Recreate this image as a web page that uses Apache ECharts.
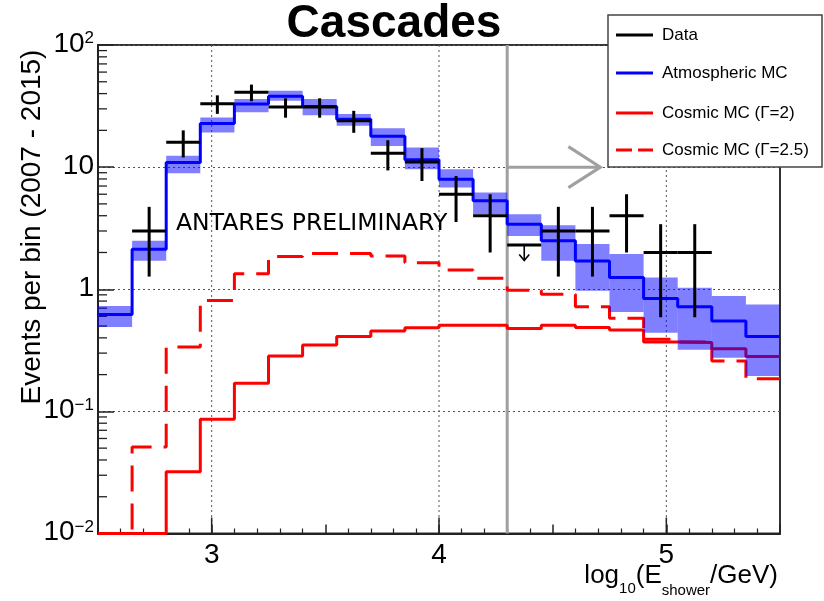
<!DOCTYPE html>
<html>
<head>
<meta charset="utf-8">
<script src="https://cdn.jsdelivr.net/npm/echarts@6/dist/echarts.min.js"></script>
<style>
  html, body { margin: 0; padding: 0; background: #ffffff; }
  #chart { width: 824px; height: 601px; }
</style>
</head>
<body>
<div id="chart"></div>
<script>
// Bin edges in log10(E_shower / GeV)
const binEdges = [2.5, 2.65, 2.8, 2.95, 3.1, 3.25, 3.4, 3.55, 3.7, 3.85, 4.0,
                  4.15, 4.3, 4.45, 4.6, 4.75, 4.9, 5.05, 5.2, 5.35, 5.5];

// Atmospheric MC expectation per bin and its uncertainty band
const atmosphericMC   = [0.62, 2.13, 10.9, 22.8, 32.8, 38.0, 31.4, 24.7, 17.9, 11.5,
                         7.97, 5.3, 3.41, 2.5, 1.70, 1.25, 0.84, 0.72, 0.55, 0.41];
const atmosphericLow  = [0.49, 1.71, 8.9, 19.2, 28.2, 34.9, 26.6, 21.8, 14.9, 9.6,
                         6.8, 4.12, 2.73, 1.71, 0.97, 0.65, 0.44, 0.32, 0.275, 0.195];
const atmosphericHigh = [0.73, 2.49, 12.4, 25.5, 36.1, 42.2, 36.1, 27.2, 20.8, 14.5,
                         9.6, 6.2, 4.12, 3.35, 2.35, 1.94, 1.25, 1.03, 0.88, 0.75];

// Cosmic neutrino expectations for two spectral indices
const cosmicGamma2  = [0.01, 0.01, 0.032, 0.086, 0.17, 0.284, 0.35, 0.41, 0.456, 0.483,
                       0.508, 0.508, 0.477, 0.507, 0.486, 0.464, 0.37, 0.366, 0.326, 0.281];
const cosmicGamma25 = [0.01, 0.051, 0.337, 0.81, 1.34, 1.85, 1.96, 1.96, 1.87, 1.65,
                       1.44, 1.23, 0.98, 0.91, 0.72, 0.58, 0.39, 0.37, 0.258, 0.185];

// Observed events with their error bar ends
const dataCounts = [null, 3, 16, 33, 41, 31, 31, 24, 13, 11, 6, 4, null, 3, 3, 4, 2, 2, null, null];
const dataLow    = [null, 1.27, 12, 27.3, 34.6, 25.4, 25.4, 19.1, 9.4, 7.7, 3.55, 2, null, 1.27, 1.27, 2, 0.59, 0.59, null, null];
const dataHigh   = [null, 4.73, 20, 38.7, 47.4, 36.6, 36.6, 28.9, 16.6, 14.3, 8.45, 6, null, 4.73, 4.73, 6, 3.41, 3.41, null, null];

// Empty bin shown as an upper limit
const limitBin = 12;
const limitValue = 2.3;
const limitArrowTip = 1.72;

// Energy cut and the arrow marking the selected region
const cutEnergy = 4.3;
const arrowEnd = 4.71;
const arrowLevel = 10;

// Axis labelling
const xTickValues = [3, 4, 5];
const xTickLabels = ['3', '4', '5'];
const yDecades = [-2, -1, 0, 1, 2];
const yTickBase = ['10', '10', '1', '10', '10'];
const yTickExp  = ['\u22122', '\u22121', '', '', '2'];
const yMinorSteps = [2, 3, 4, 5, 6, 7, 8, 9];

const legendEntries = ['Data', 'Atmospheric MC', 'Cosmic MC (\u0393=2)', 'Cosmic MC (\u0393=2.5)'];

const FONT = '"Liberation Sans", Arial, Helvetica, sans-serif';
const BLUE = '#0000ff';
const RED = '#ff0000';
const GREY = '#a0a0a0';

function histogramPath(values) {
  const pts = [];
  values.forEach((v, i) => {
    if (v == null) return;
    pts.push([binEdges[i], v], [binEdges[i + 1], v]);
  });
  return pts;
}

const bandData = atmosphericMC.map((_, i) => [binEdges[i], binEdges[i + 1], atmosphericLow[i], atmosphericHigh[i]]);
const crossData = [];
dataCounts.forEach((c, i) => {
  if (c == null) return;
  crossData.push([binEdges[i], binEdges[i + 1], c, dataLow[i], dataHigh[i]]);
});

const chart = echarts.init(document.getElementById('chart'), null, { renderer: 'canvas' });

const yRich = {
  b: { fontFamily: FONT, fontSize: 28, color: '#000', lineHeight: 30, verticalAlign: 'top' },
  s: { fontFamily: FONT, fontSize: 17, color: '#000', lineHeight: 17, verticalAlign: 'top' }
};

// Lay out the x-axis title piece by piece so the subscripts sit low
const measureCtx = document.createElement('canvas').getContext('2d');
function textWidth(str, size) {
  measureCtx.font = size + 'px ' + FONT;
  return measureCtx.measureText(str).width;
}
const xTitleParts = [
  { t: 'log', size: 26, base: 584 },
  { t: '10', size: 15, base: 594 },
  { t: '(E', size: 26, base: 584 },
  { t: 'shower', size: 15, base: 596 },
  { t: '/GeV)', size: 26, base: 584 }
];
const xTitleRight = 778;
const totalW = xTitleParts.reduce((s, p) => s + textWidth(p.t, p.size), 0);
let cursor = xTitleRight - totalW;
const xTitleElems = xTitleParts.map(p => {
  const el = {
    type: 'text', x: cursor, y: p.base - 0.31 * p.size, z: 50,
    style: { text: p.t, font: p.size + 'px ' + FONT, fill: '#000', align: 'left', verticalAlign: 'middle' }
  };
  cursor += textWidth(p.t, p.size);
  return el;
});

// Legend box
const legendX = 608, legendY = 15, legendW = 214, legendH = 152;
const legendRows = [35, 73, 113, 150];
const legendStyles = [
  { stroke: '#000', lineDash: null },
  { stroke: BLUE, lineDash: null },
  { stroke: RED, lineDash: null },
  { stroke: RED, lineDash: [16, 6] }
];
const legendElems = [{
  type: 'rect', z: 100,
  shape: { x: legendX, y: legendY, width: legendW, height: legendH },
  style: { fill: '#fff', stroke: '#444', lineWidth: 1.5 }
}];
legendEntries.forEach((name, i) => {
  legendElems.push({
    type: 'line', z: 101,
    shape: { x1: 616, y1: legendRows[i], x2: 653, y2: legendRows[i] },
    style: { stroke: legendStyles[i].stroke, lineWidth: 3, lineDash: legendStyles[i].lineDash }
  });
  legendElems.push({
    type: 'text', z: 101, x: 662, y: legendRows[i],
    style: { text: name, font: '17px ' + FONT, fill: '#000', verticalAlign: 'middle', align: 'left' }
  });
});

const option = {
  animation: false,
  backgroundColor: '#ffffff',
  grid: {
    left: 98, right: 44, top: 45, bottom: 67.5,
    show: true, borderColor: '#333', borderWidth: 2, backgroundColor: 'transparent'
  },
  xAxis: {
    type: 'value', min: 2.5, max: 5.5, interval: 0.5,
    axisLine: { show: true, onZero: false, lineStyle: { color: '#222', width: 2 } },
    axisTick: { show: true, inside: true, length: 9, lineStyle: { color: '#222', width: 1.5 } },
    minorTick: { show: true, splitNumber: 5, length: 5, lineStyle: { color: '#222', width: 1.2 } },
    splitLine: { show: false },
    axisLabel: {
      margin: 8, color: '#000', fontFamily: FONT, fontSize: 28,
      formatter: v => {
        const k = xTickValues.findIndex(t => Math.abs(t - v) < 1e-9);
        return k >= 0 ? xTickLabels[k] : '';
      }
    }
  },
  yAxis: {
    type: 'log', logBase: 10, min: 0.01, max: 100,
    axisLine: { show: true, onZero: false, lineStyle: { color: '#222', width: 2 } },
    axisTick: { show: true, inside: true, length: 16, lineStyle: { color: '#222', width: 1.5 } },
    splitLine: { show: true, lineStyle: { color: '#555', width: 1, type: [2, 3] } },
    axisLabel: {
      margin: 4, color: '#000',
      formatter: v => {
        const e = Math.round(Math.log10(v));
        const k = yDecades.indexOf(e);
        if (k < 0) return '';
        return '{b|' + yTickBase[k] + '}' + (yTickExp[k] ? '{s|' + yTickExp[k] + '}' : '');
      },
      rich: yRich
    }
  },
  graphic: [
    {
      type: 'text', x: 394, y: 24, z: 50,
      style: { text: 'Cascades', font: 'bold 46px ' + FONT, fill: '#000', align: 'center', verticalAlign: 'middle' }
    },
    {
      type: 'text', x: 32, y: 227, rotation: Math.PI / 2, z: 50,
      style: { text: 'Events per bin (2007 - 2015)', font: '28px ' + FONT, fill: '#000', align: 'center', verticalAlign: 'middle' }
    },
    {
      type: 'text', x: 176, y: 224, z: 50,
      style: { text: 'ANTARES PRELIMINARY', font: '23.5px "DejaVu Sans", Verdana, sans-serif', fill: '#000', align: 'left', verticalAlign: 'middle' }
    },
    ...xTitleElems,
    ...legendElems
  ],
  series: [
    {
      // Grid lines along x and minor ticks drawn through the axis scales
      type: 'custom', z: 1, silent: true, data: [[0]],
      renderItem: (params, api) => {
        const children = [];
        xTickValues.forEach(x => {
          const top = api.coord([x, 100]);
          const bot = api.coord([x, 0.01]);
          children.push({ type: 'line', shape: { x1: top[0], y1: top[1], x2: bot[0], y2: bot[1] },
            style: { stroke: '#555', lineWidth: 1, lineDash: [2, 3] } });
          children.push({ type: 'line', shape: { x1: bot[0], y1: bot[1], x2: bot[0], y2: bot[1] - 16 },
            style: { stroke: '#222', lineWidth: 1.5 } });
        });
        yDecades.slice(0, -1).forEach(e => {
          yMinorSteps.forEach(m => {
            const p = api.coord([2.5, m * Math.pow(10, e)]);
            children.push({ type: 'line', shape: { x1: p[0], y1: p[1], x2: p[0] + 9, y2: p[1] },
              style: { stroke: '#222', lineWidth: 1.3 } });
          });
        });
        return { type: 'group', children };
      }
    },
    {
      // Energy cut and arrow towards the high-energy region
      type: 'custom', z: 2, silent: true, data: [[cutEnergy, arrowEnd, arrowLevel]],
      renderItem: (params, api) => {
        const top = api.coord([api.value(0), 100]);
        const bot = api.coord([api.value(0), 0.01]);
        const a0 = api.coord([api.value(0), api.value(2)]);
        const a1 = api.coord([api.value(1), api.value(2)]);
        const st = { stroke: GREY, lineWidth: 3, fill: null };
        return { type: 'group', children: [
          { type: 'line', shape: { x1: top[0], y1: top[1], x2: bot[0], y2: bot[1] }, style: st },
          { type: 'line', shape: { x1: a0[0], y1: a0[1], x2: a1[0], y2: a1[1] }, style: st },
          { type: 'polyline', shape: { points: [[a1[0] - 32, a1[1] - 20.5], [a1[0], a1[1]], [a1[0] - 32, a1[1] + 20.5]] }, style: st }
        ] };
      }
    },
    {
      name: 'Cosmic MC (\u0393=2)', type: 'line', z: 3, clip: false,
      data: histogramPath(cosmicGamma2), symbol: 'none', silent: true,
      lineStyle: { color: RED, width: 3 }
    },
    {
      name: 'Cosmic MC (\u0393=2.5)', type: 'line', z: 3, clip: false,
      data: histogramPath(cosmicGamma25), symbol: 'none', silent: true,
      lineStyle: { color: RED, width: 3, type: [26, 12] }
    },
    {
      // Atmospheric MC uncertainty band
      type: 'custom', z: 4, silent: true, data: bandData,
      encode: { x: [0, 1], y: [2, 3] },
      renderItem: (params, api) => {
        const a = api.coord([api.value(0), api.value(3)]);
        const b = api.coord([api.value(1), api.value(2)]);
        return { type: 'rect', shape: { x: a[0], y: a[1], width: b[0] - a[0], height: b[1] - a[1] },
          style: { fill: 'rgba(0,0,255,0.5)' } };
      }
    },
    {
      name: 'Atmospheric MC', type: 'line', z: 5, clip: false,
      data: histogramPath(atmosphericMC), symbol: 'none', silent: true,
      lineStyle: { color: BLUE, width: 3 }
    },
    {
      // Data points with horizontal bin width and vertical error bars
      name: 'Data', type: 'custom', z: 6, silent: true, data: crossData,
      encode: { x: [0, 1], y: [2, 3, 4] },
      renderItem: (params, api) => {
        const lo = api.value(0), hi = api.value(1), mid = (lo + hi) / 2;
        const l = api.coord([lo, api.value(2)]);
        const r = api.coord([hi, api.value(2)]);
        const b = api.coord([mid, api.value(3)]);
        const t = api.coord([mid, api.value(4)]);
        const st = { stroke: '#000', lineWidth: 3 };
        return { type: 'group', children: [
          { type: 'line', shape: { x1: l[0], y1: l[1], x2: r[0], y2: r[1] }, style: st },
          { type: 'line', shape: { x1: t[0], y1: t[1], x2: b[0], y2: b[1] }, style: st }
        ] };
      }
    },
    {
      // Upper limit for the empty bin
      type: 'custom', z: 6, silent: true,
      data: [[binEdges[limitBin], binEdges[limitBin + 1], limitValue, limitArrowTip]],
      encode: { x: [0, 1], y: [2, 3] },
      renderItem: (params, api) => {
        const lo = api.value(0), hi = api.value(1), mid = (lo + hi) / 2;
        const l = api.coord([lo, api.value(2)]);
        const r = api.coord([hi, api.value(2)]);
        const tip = api.coord([mid, api.value(3)]);
        const st = { stroke: '#000', lineWidth: 3, fill: null };
        const st2 = { stroke: '#000', lineWidth: 1.6, fill: null };
        return { type: 'group', children: [
          { type: 'line', shape: { x1: l[0], y1: l[1], x2: r[0], y2: r[1] }, style: st },
          { type: 'line', shape: { x1: tip[0], y1: l[1], x2: tip[0], y2: tip[1] }, style: st2 },
          { type: 'polyline', shape: { points: [[tip[0] - 5, tip[1] - 6], [tip[0], tip[1]], [tip[0] + 5, tip[1] - 6]] }, style: st2 }
        ] };
      }
    }
  ]
};

chart.setOption(option);
</script>
</body>
</html>
